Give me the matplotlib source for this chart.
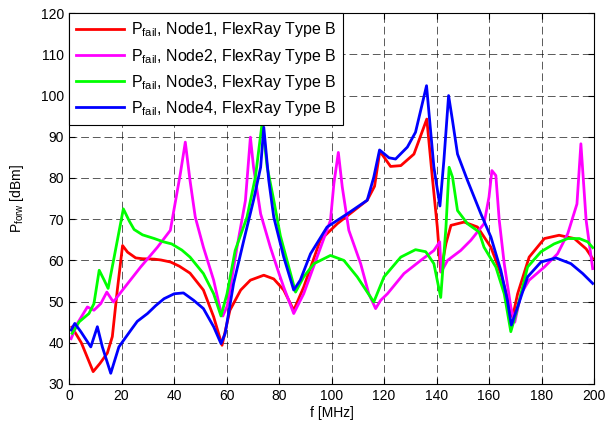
import numpy as np
import matplotlib.pyplot as plt

plt.rcParams['font.family'] = ['Liberation Sans', 'DejaVu Sans']
plt.rcParams['mathtext.fontset'] = 'custom'
plt.rcParams['mathtext.rm'] = 'Liberation Sans'

# Node1 (red)
f1 = [1.1, 4.7, 9.2, 11.8, 14.6, 16.5, 18.4, 20.4, 22.3, 25.4, 28, 32.5, 35, 38.7, 42, 46.1,
      51.2, 55.1, 58.3, 61.3, 65.4, 69.1, 74.2, 78.0, 81.8, 85.6, 89.4, 95.7, 102.2, 108.6,
      113.6, 116.4, 118.4, 122.5, 126.4, 131.4, 136.3, 138.4, 140.3, 141.6, 143.6, 145.5,
      150.5, 155.6, 160.7, 164.5, 169.0, 170.9, 175.3, 181.1, 186.7, 192.5, 197.0, 199.5]
p1 = [43.8, 40, 33, 35, 37.5, 41.5, 52.8, 63.6, 62, 60.6, 60.4, 60.3, 60.1, 59.6, 58.6, 56.9,
      52.8, 46.3, 39.4, 47.9, 52.8, 55.2, 56.4, 55.5, 52.8, 47.9, 53.5, 64.9, 68.9, 72.1,
      74.6, 78, 86.5, 82.8, 83, 85.8, 94.3, 80.2, 68.1, 57.2, 64.1, 68.5,
      69.3, 68.1, 63.2, 56.8, 46.3, 51.9, 60.8, 65.3, 66.1, 65.3, 62.8, 60.4]

# Node2 (magenta)
f2 = [0.8, 3.2, 7.0, 9.5, 12.1, 14.4, 16.9, 20.4, 27.3, 33.7, 38.6, 42.4, 44.3, 46.1, 48.1,
      51.2, 55.1, 57.7, 58.6, 60.3, 64.0, 67.2, 69.1, 70.3, 73.0, 76.7, 80.0, 81.8, 85.6, 89.4,
      94.5, 99.6, 100.9, 102.6, 104.1, 106.6, 111.1, 114.2, 116.8, 118.7, 121.3, 127.6,
      134.0, 139.0, 141.2, 141.8, 144.2, 149.2, 153.1, 158.1, 160.0, 161.1, 162.6, 163.9,
      165.8, 168.3, 169.8, 172.2, 175.3, 181.1, 186.1, 190.0, 193.5, 195.0, 197.0, 199.5]
p2 = [41, 44.7, 48.7, 47.9, 49.5, 52.3, 49.9, 52.8, 58.4, 63.2, 67.3, 81, 88.7, 79.4, 70.5,
      63.2, 55.2, 47.9, 46.5, 49, 63.2, 74.5, 89.9, 82.6, 71.3, 63.2, 56.8, 53.5, 47.1, 51.9,
      60.8, 69.7, 78.6, 86.2, 77.8, 67.3, 59.2, 51.9, 48.3, 50.3, 51.9, 56.8,
      60, 62.4, 64.5, 57.2, 60, 62.4, 64.9, 68.9, 75.4, 81.8, 80.6, 69.7,
      59.2, 48.7, 45, 51.9, 55.2, 58.4, 61.6, 66.5, 73.7, 88.3, 69.7, 58]

# Node3 (green)
f3 = [1.2, 3.9, 7.6, 9.5, 11.5, 13.4, 14.9, 17.2, 20.7, 23, 24.8, 28, 32.5, 36, 39.1, 43,
      46.1, 51.2, 55.1, 57.9, 60.2, 63.3, 67.8, 71.0, 73.6, 75.5, 78.0, 80.5, 86.3, 89.4,
      93.3, 99.6, 104.7, 109.8, 116.1, 120.0, 126.4, 132.0, 135.9, 139.0, 141.6, 143.6,
      144.8, 146.1, 148.0, 151.8, 156.2, 158.1, 162.6, 165.8, 168.3, 170.3, 174.7, 179.8,
      184.8, 190.0, 194.4, 197.6, 199.5]
p3 = [42.3, 45.1, 47.1, 49.5, 57.6, 55.2, 53.2, 60.8, 72.5, 69.5, 67.5, 66.2, 65.3, 64.5, 64, 62.5,
      60.8, 56.8, 51.9, 46.5, 51.9, 62.4, 70.5, 80.2, 93.5, 82.6, 74.6, 66, 52.3, 56,
      59.2, 61.2, 60, 56, 49.9, 56, 60.8, 62.6, 62.1, 59.2, 51, 68.1,
      82.6, 80.2, 72.1, 68.9, 66.9, 63.2, 58.4, 51.9, 42.7, 47.1, 58.4, 62.1,
      64, 65.3, 65.3, 64.5, 63.1]

# Node4 (blue)
f4 = [0.8, 2.2, 4.5, 8.3, 10.8, 12.7, 15.9, 19.0, 23.6, 26, 29.9, 33, 36.2, 40.1, 43.6, 47.5,
      51.2, 55.1, 57.9, 59.5, 62.7, 66.6, 70.3, 73.0, 74.2, 76.1, 78.0, 81.8, 85.6, 88.1,
      92.0, 98.3, 106.0, 113.6, 116.1, 118.3, 121.9, 124.4, 128.9, 132.0, 136.2, 139.0,
      141.3, 142.8, 144.6, 146.1, 148.0, 151.8, 156.9, 160.7, 164.5, 167.0, 168.5, 170.9,
      174.7, 179.8, 185.5, 191.2, 195.7, 199.5]
p4 = [43.1, 44.7, 42.7, 39, 43.9, 39, 32.6, 39, 43.1, 45.2, 47.1, 49, 50.7, 51.9, 52.1, 50.3,
      48.3, 43.9, 39.8, 42.3, 54.4, 64.9, 74.6, 82.6, 92.3, 79.4, 70.5, 60.8, 52.8, 55.2,
      61.6, 68.1, 71.3, 74.6, 80.2, 86.8, 84.9, 84.6, 87.5, 91.1, 102.4, 82.6,
      73.2, 84.2, 100, 93.9, 85.8, 79.4, 71.3, 65.7, 57.6, 50.3, 44.3, 48.7,
      56, 59.6, 60.6, 59.2, 56.8, 54.4]

labels = ['$\\mathregular{P_{fail}}$, Node1, FlexRay Type B',
          '$\\mathregular{P_{fail}}$, Node2, FlexRay Type B',
          '$\\mathregular{P_{fail}}$, Node3, FlexRay Type B',
          '$\\mathregular{P_{fail}}$, Node4, FlexRay Type B']
colors = ['#ff0000', '#ff00ff', '#00ff00', '#0000ff']

fig = plt.figure(figsize=(6.08, 4.25), dpi=100)
ax = fig.add_axes([0.1135, 0.0965, 0.8635, 0.8725])

for f, p, c, lab in zip([f1, f2, f3, f4], [p1, p2, p3, p4], colors, labels):
    ax.plot(f, p, color=c, linewidth=2, label=lab)

ax.set_xlim(0, 200)
ax.set_ylim(30, 120)
ax.set_xticks(np.arange(0, 201, 20))
ax.set_yticks(np.arange(30, 121, 10))
ax.grid(True, color='black', linestyle=(0, (8, 4)), linewidth=0.7, alpha=0.65)
ax.tick_params(direction='in', top=True, right=True, labelsize=10, length=4)
ax.set_xlabel('f [MHz]', fontsize=10, labelpad=2)
ax.set_ylabel('$\\mathregular{P_{forw}}$ [dBm]', fontsize=10, labelpad=11)

leg = ax.legend(loc='upper left', fontsize=11.5, fancybox=False, framealpha=1,
                edgecolor='black', borderaxespad=0, handlelength=3.0,
                handletextpad=0.4, labelspacing=0.45, borderpad=0.45)
leg.get_frame().set_linewidth(0.8)

fig.savefig('out.png', dpi=100)
